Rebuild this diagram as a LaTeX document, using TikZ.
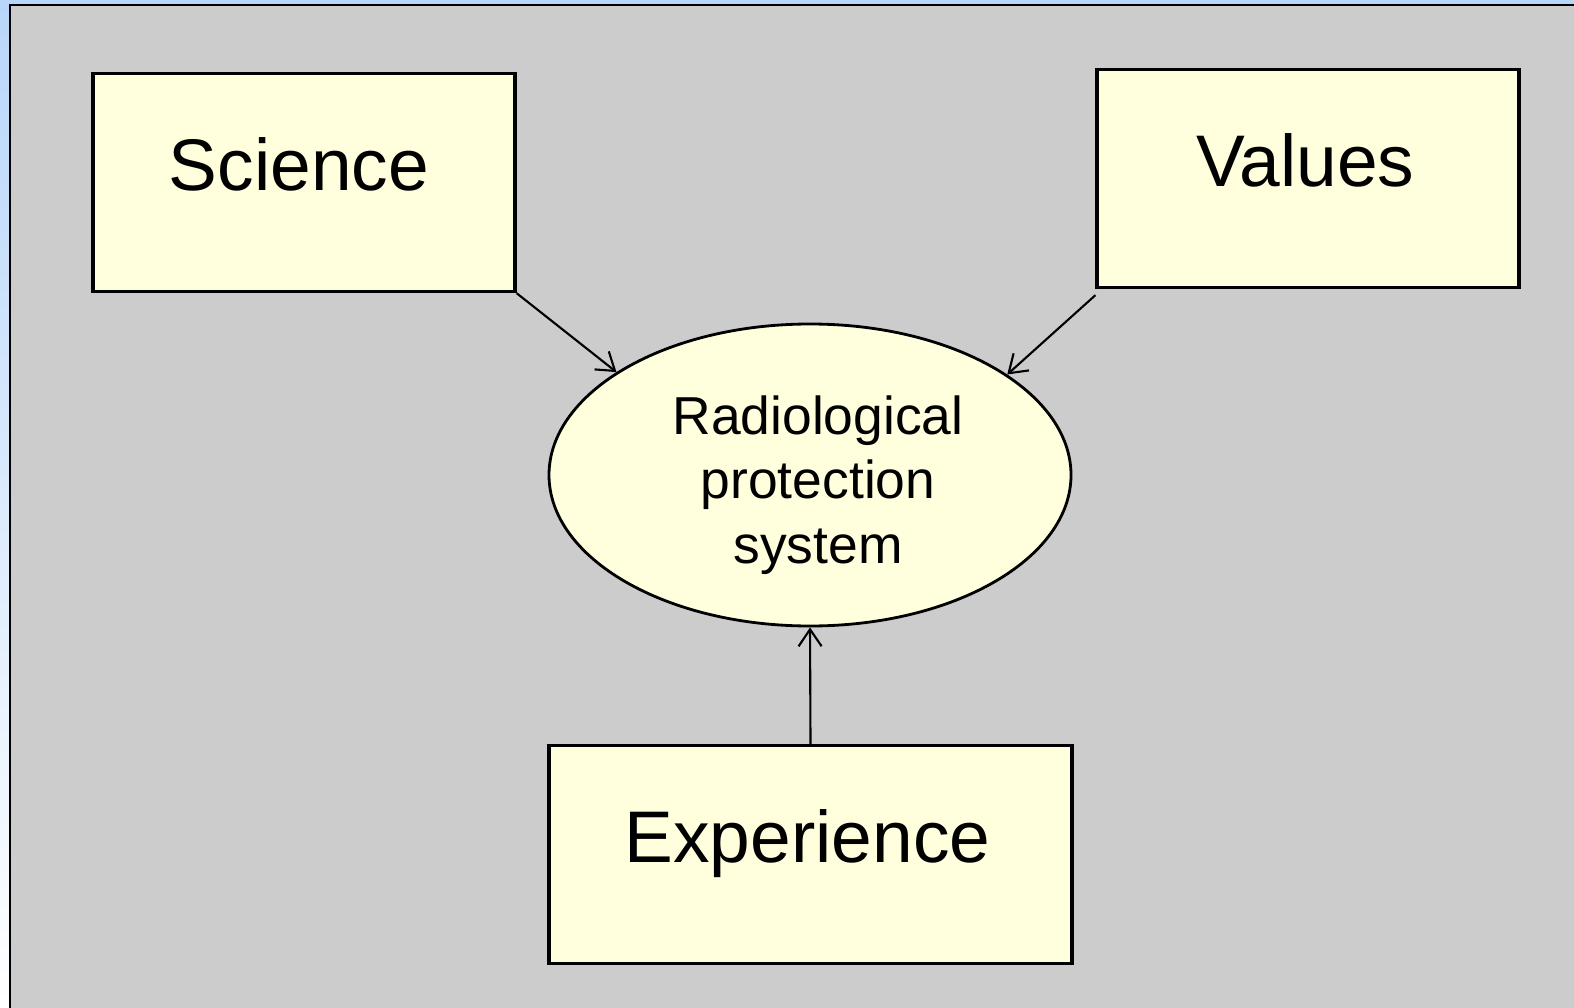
\documentclass[tikz,border=0pt]{standalone}
\usepackage{fontspec}
\setmainfont{Liberation Sans}
\usetikzlibrary{arrows.meta, positioning, shapes.geometric}
\definecolor{SlideGrey}{RGB}{204, 204, 204}
\definecolor{PaleYellow}{RGB}{255, 255, 221}
\definecolor{SkyBlue}{RGB}{184, 214, 250}

\begin{document}
\begin{tikzpicture}[box/.style={draw=black, line width=0.9pt, fill=PaleYellow, inner sep=0pt, anchor=north, text height=1.17cm, text depth=1.01cm, font=\fontsize{20.8}{24}\selectfont},
  core/.style={ellipse, draw=black, line width=0.8pt, fill=PaleYellow, minimum width=5.22cm, minimum height=3.02cm, inner sep=0pt, align=center, font=\fontsize{15.2}{18.3}\selectfont},
  ar/.style={-{Straight Barb[length=1.7mm, width=2.3mm]}, line width=0.6pt}]
\useasboundingbox (0,0) rectangle (15.74,-10.08);
\shade[top color=SkyBlue, bottom color=white] (0,0) rectangle (15.74,-10.08);
\draw[fill=SlideGrey, line width=0.8pt] (0.10,-0.05) rectangle (16,-10.5);
\node[box, minimum width=4.22cm] (sci) at (3.04,-0.72) {Science\hspace*{0.1cm}};
\node[box, minimum width=4.22cm] (val) at (13.08,-0.68) {Values\hspace*{0.05cm}};
\node[box, minimum width=5.23cm] (exp) at (8.105,-7.44) {Experience\hspace*{0.06cm}};
\node[core] (rps) at (8.10,-4.75) {\hspace*{0.16cm}\raisebox{-0.11cm}[\height][\depth]{\begin{tabular}{@{}c@{}}Radiological\\protection\\system\end{tabular}}};
\draw[ar] (sci.south east) -- (rps.152);
\draw[ar] ([yshift=-0.06cm]val.south west) -- (rps.27);
\draw[ar] (exp.north) -- (rps.south);
\end{tikzpicture}
\end{document}
